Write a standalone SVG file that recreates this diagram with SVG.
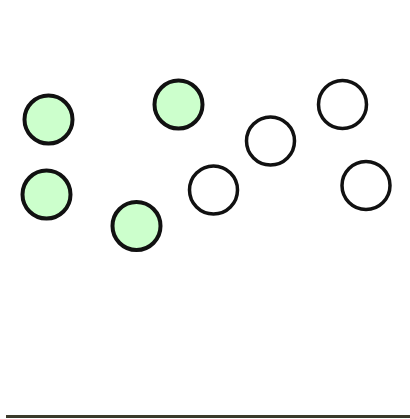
<svg xmlns="http://www.w3.org/2000/svg" width="410" height="419" viewBox="0 0 410 419">
<style>
.g{fill:#ccffcc;stroke:#111;stroke-width:4}
.w{fill:#fff;stroke:#111;stroke-width:3.5}
</style>
<rect width="410" height="419" fill="#fff"/>
<g id="n1"><circle class="g" cx="48.5" cy="119.5" r="24"/></g>
<g id="n2"><circle class="g" cx="178.5" cy="104.5" r="24"/></g>
<g id="n3"><circle class="g" cx="46.5" cy="194.5" r="24"/></g>
<g id="n4"><circle class="g" cx="136.5" cy="226" r="24"/></g>
<g id="n5"><circle class="w" cx="213.5" cy="190" r="24"/></g>
<g id="n6"><circle class="w" cx="270.5" cy="141" r="24"/></g>
<g id="n7"><circle class="w" cx="342.5" cy="104.5" r="24"/></g>
<g id="n8"><circle class="w" cx="366" cy="185.5" r="24"/></g>
<g id="connectors"></g>
<rect x="6" y="415" width="404" height="3" fill="#3a3a2a"/>
</svg>
